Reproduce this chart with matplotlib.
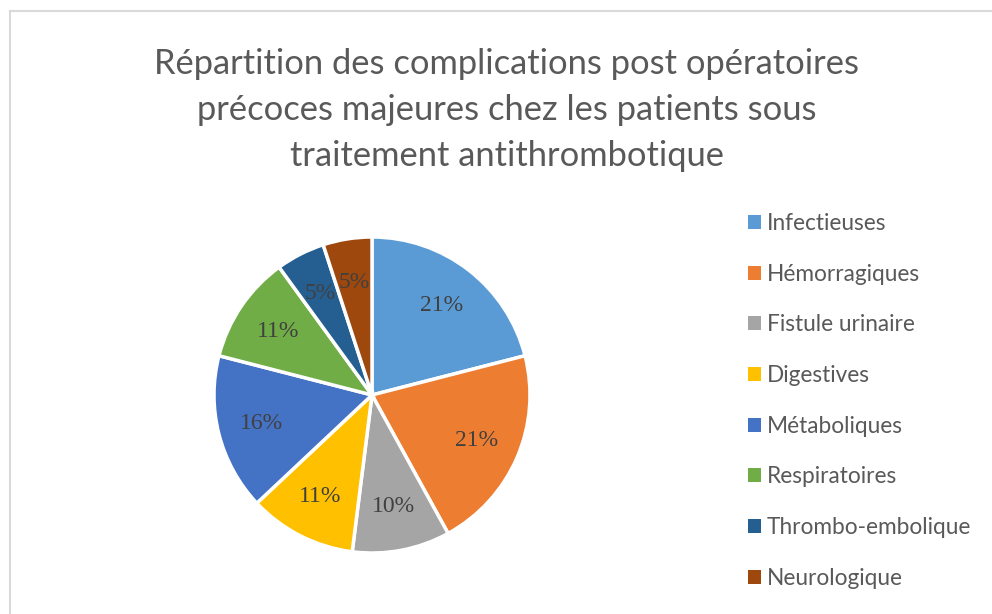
import matplotlib.pyplot as plt
from matplotlib.lines import Line2D
from matplotlib.patches import Patch

# Data
categories = ['Infectieuses', 'Hémorragiques', 'Fistule urinaire', 'Digestives',
              'Métaboliques', 'Respiratoires', 'Thrombo-embolique', 'Neurologique']
percent = [21, 21, 10, 11, 16, 11, 5, 5]
colors = ['#5B9BD5', '#ED7D31', '#A5A5A5', '#FFC000',
          '#4472C4', '#70AD47', '#255E91', '#9E480E']
title = ('Répartition des complications post opératoires\n'
         'précoces majeures chez les patients sous\n'
         'traitement antithrombotique')

W, H = 992, 614
fig = plt.figure(figsize=(W / 100, H / 100), dpi=100)

# pie axes: center (372, 395) px, radius 158 px
cx, cy, r = 372, 395, 158
ax = fig.add_axes([(cx - r) / W, (H - cy - r) / H, 2 * r / W, 2 * r / H])
wedges, texts, autotexts = ax.pie(
    percent, colors=colors, startangle=90, counterclock=False,
    autopct=lambda p: f'{p:.0f}%', pctdistance=0.72, radius=1.0,
    wedgeprops=dict(edgecolor='white', linewidth=2.5),
    textprops=dict(family='Liberation Serif', fontsize=17, color='#404040'))
ax.set_xlim(-1, 1)
ax.set_ylim(-1, 1)
ax.set_aspect('equal')

# title
fig.text(507 / W, 1 - 110 / H, title, ha='center', va='center',
         family='Lato', fontsize=24.8, color='#595959', linespacing=1.55)

# legend
handles = [Patch(facecolor=c, edgecolor='none') for c in colors]
fig.legend(handles, categories, loc='upper left',
           bbox_to_anchor=(748 / W, 1 - 213 / H), frameon=False,
           prop=dict(family='Lato', size=16.3), labelcolor='#595959',
           handlelength=0.58, handleheight=0.58, handletextpad=0.25,
           labelspacing=1.31, borderpad=0, borderaxespad=0)

# chart area border (top and left visible)
fig.add_artist(Line2D([9.5 / W, 1], [1 - 10.5 / H, 1 - 10.5 / H],
                      transform=fig.transFigure, color='#d9d9d9', lw=1.5))
fig.add_artist(Line2D([9.5 / W, 9.5 / W], [0, 1 - 10.5 / H],
                      transform=fig.transFigure, color='#d9d9d9', lw=1.5))

fig.savefig('out.png', dpi=100, facecolor='white')
